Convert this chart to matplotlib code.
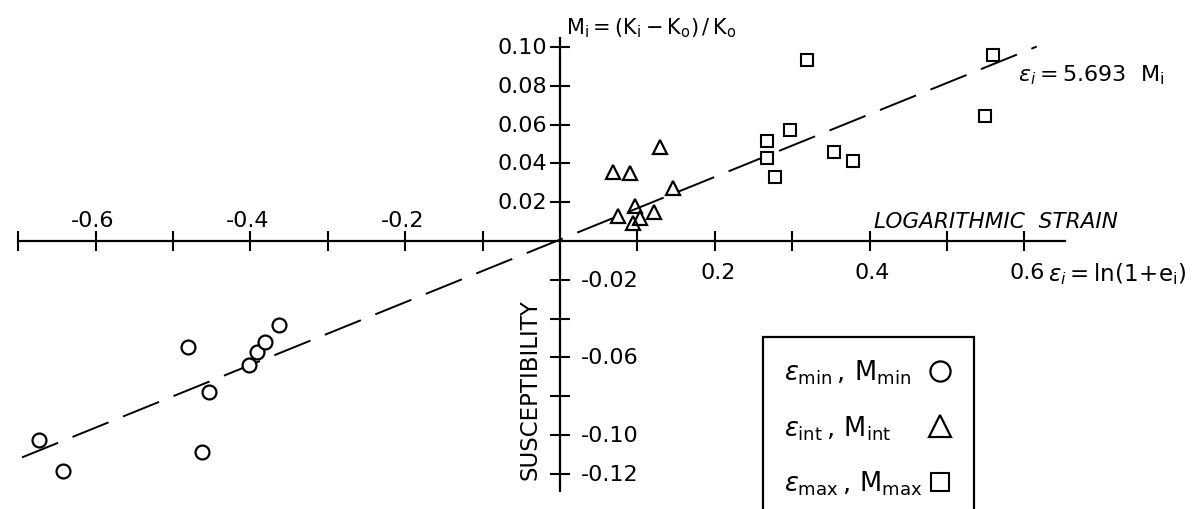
import matplotlib.pyplot as plt

plt.rcParams['font.family'] = ['DejaVu Sans']
plt.rcParams['mathtext.fontset'] = 'dejavusans'

# data (logarithmic strain, susceptibility change)
eps_min = [-0.673, -0.642, -0.480, -0.453, -0.463, -0.402, -0.392, -0.381, -0.363]
M_min = [-0.1024, -0.1187, -0.0548, -0.0777, -0.1089, -0.0638, -0.0574, -0.0522, -0.0433]

eps_int = [0.069, 0.091, 0.129, 0.146, 0.097, 0.075, 0.121, 0.103, 0.094]
M_int = [0.0357, 0.0349, 0.0486, 0.0272, 0.0182, 0.0127, 0.0152, 0.0119, 0.0093]

eps_max = [0.319, 0.297, 0.268, 0.268, 0.278, 0.354, 0.378, 0.559, 0.549]
M_max = [0.0934, 0.0574, 0.0517, 0.0429, 0.0328, 0.0460, 0.0411, 0.0959, 0.0643]

# fitted line as drawn
fit_eps = [-0.695, 0.616]
fit_M = [-0.1115, 0.1002]

x_ticks = [-0.7, -0.6, -0.5, -0.4, -0.3, -0.2, -0.1, 0.1, 0.2, 0.3, 0.4, 0.5, 0.6]
y_ticks = [-0.12, -0.10, -0.08, -0.06, -0.04, -0.02, 0.02, 0.04, 0.06, 0.08, 0.10]
x_lab_vals = [-0.6, -0.4, -0.2, 0.2, 0.4, 0.6]
x_lab_text = ['-0.6', '-0.4', '-0.2', '0.2', '0.4', '0.6']
y_lab_vals = [0.10, 0.08, 0.06, 0.04, 0.02, -0.02, -0.06, -0.10, -0.12]
y_lab_text = ['0.10', '0.08', '0.06', '0.04', '0.02', '-0.02', '-0.06', '-0.10', '-0.12']

fig = plt.figure(figsize=(11.95, 5.10), dpi=100)
ax = fig.add_axes([0, 0, 1, 1])
ax.set_xlim(-0.7235, 0.8204)
ax.set_ylim(-0.1381, 0.1247)

for s in ['top', 'right']:
    ax.spines[s].set_visible(False)
ax.spines['left'].set_position(('data', 0))
ax.spines['bottom'].set_position(('data', 0))
ax.spines['left'].set_bounds(-0.129, 0.1046)
ax.spines['bottom'].set_bounds(-0.70, 0.652)
ax.spines['left'].set_linewidth(1.6)
ax.spines['bottom'].set_linewidth(1.6)

ax.set_xticks(x_ticks)
ax.set_yticks(y_ticks)
ax.tick_params(direction='inout', length=15, width=1.5,
               labelbottom=False, labelleft=False)

fs = 16
for v, t in zip(x_lab_vals, x_lab_text):
    if v < 0:
        ax.annotate(t, (v, 0), xytext=(-3, 21), textcoords='offset pixels',
                    ha='center', va='center', fontsize=fs)
    else:
        ax.annotate(t, (v, 0), xytext=(3, -31), textcoords='offset pixels',
                    ha='center', va='center', fontsize=fs)
for v, t in zip(y_lab_vals, y_lab_text):
    if v > 0:
        ax.annotate(t, (0, v), xytext=(-13, 0), textcoords='offset pixels',
                    ha='right', va='center', fontsize=fs)
    else:
        ax.annotate(t, (0, v), xytext=(21, 0), textcoords='offset pixels',
                    ha='left', va='center', fontsize=fs)

ax.plot(fit_eps, fit_M, color='black', lw=1.4, dashes=(20, 8))

h1, = ax.plot(eps_min, M_min, 'o', ms=10, mfc='white', mec='black', mew=1.6,
              label=r'$\varepsilon_{\mathrm{min}}\,,\,\mathrm{M_{min}}$')
h2, = ax.plot(eps_int, M_int, '^', ms=10.5, mfc='none', mec='black', mew=1.6,
              label=r'$\varepsilon_{\mathrm{int}}\,,\,\mathrm{M_{int}}$')
h3, = ax.plot(eps_max, M_max, 's', ms=8.5, mfc='white', mec='black', mew=1.5,
              label=r'$\varepsilon_{\mathrm{max}}\,,\,\mathrm{M_{max}}$')

leg_fs = 18.5
pad = 0.2
leg = ax.legend(handles=[h1, h2, h3], markerfirst=False, loc='upper left',
                bbox_to_anchor=(763 / 1195, 1 - 338 / 510),
                bbox_transform=fig.transFigure, fontsize=leg_fs, markerscale=1.45,
                frameon=True, fancybox=False, edgecolor='black', framealpha=1,
                handlelength=1.0, handletextpad=pad, labelspacing=1.05,
                borderpad=0.8, borderaxespad=0)
leg.get_frame().set_linewidth(1.6)

# text left-aligned, markers right-aligned inside the legend box
fig.canvas.draw()
r = fig.canvas.get_renderer()
widths = [t.get_window_extent(r).width for t in leg.get_texts()]
items = leg._legend_handle_box.get_children()[0].get_children()
for item, w in zip(items, widths):
    item.sep = pad * leg_fs + (max(widths) - w) * 72 / fig.dpi

fig.text(566 / 1195, 1 - 28 / 510, r'$\mathrm{M_i = (K_i - K_o)\, /\, K_o}$',
         ha='left', va='center', fontsize=15)
fig.text(1018 / 1195, 1 - 75 / 510, r'$\varepsilon_i = \mathrm{5.693\ \ M_i}$',
         ha='left', va='center', fontsize=16)
fig.text(874 / 1195, 1 - 222 / 510, 'LOGARITHMIC  STRAIN', style='italic',
         ha='left', va='center', fontsize=15.6)
fig.text(1048 / 1195, 1 - 274 / 510, r'$\varepsilon_i = \mathrm{ln(1\!+\!e_i)}$',
         ha='left', va='center', fontsize=16.5)
fig.text(530 / 1195, 1 - 390 / 510, 'SUSCEPTIBILITY', rotation=90,
         ha='center', va='center', fontsize=16.5)

fig.savefig('out.png', dpi=100)
